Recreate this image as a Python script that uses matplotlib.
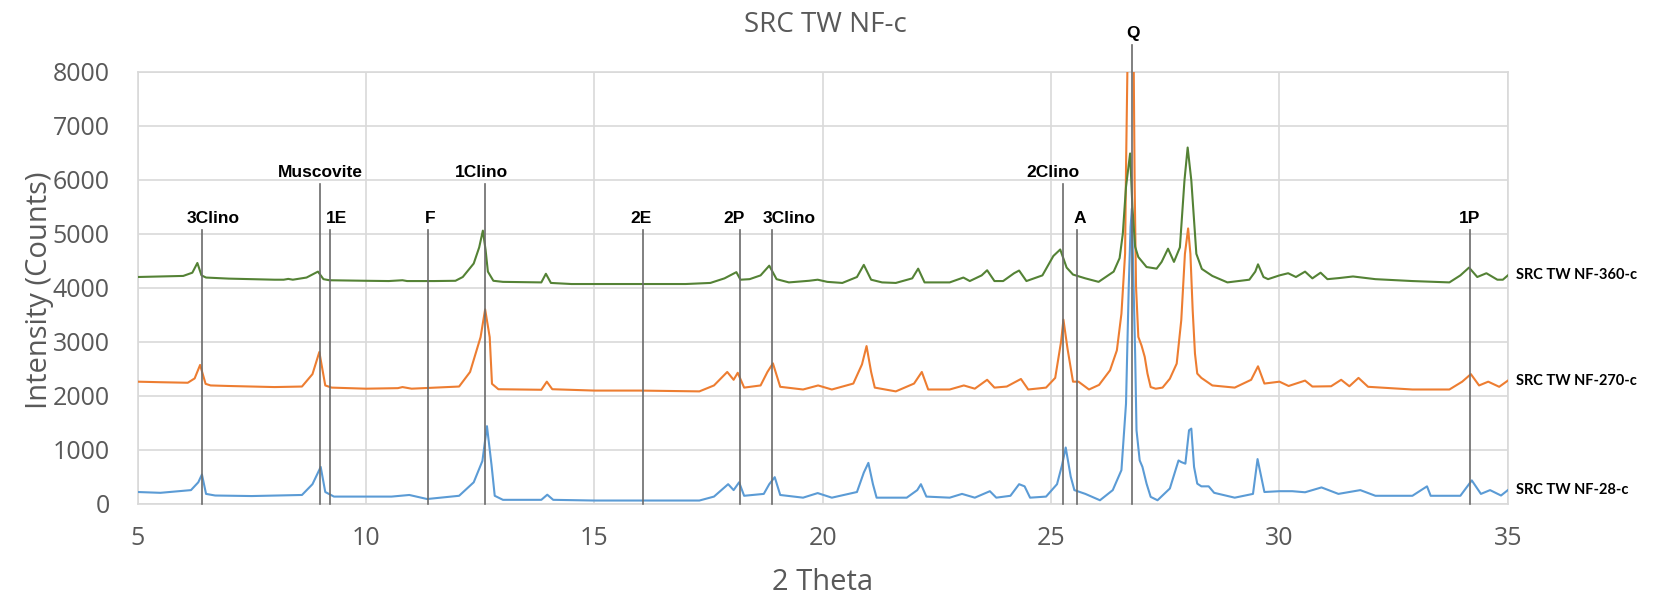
import matplotlib
matplotlib.use("Agg")
import matplotlib.pyplot as plt

# XRD traces, 2-theta vs counts (stacked samples)
theta_360 = [5.0, 5.5, 6.0, 6.2, 6.31, 6.4, 6.5, 7.0, 7.5, 8.0, 8.2, 8.3, 8.4, 8.7, 8.95, 9.07,
             9.2, 10.0, 10.5, 10.8, 10.9, 11.5, 11.96, 12.12, 12.36, 12.48, 12.56, 12.62, 12.67,
             12.79, 13.0, 13.84, 13.94, 14.05, 14.5, 15.0, 16.0, 17.0, 17.54, 17.85, 18.11, 18.2,
             18.4, 18.64, 18.83, 18.99, 19.26, 19.7, 19.89, 20.1, 20.43, 20.75, 20.9, 21.06, 21.3,
             21.6, 21.96, 22.09, 22.23, 22.78, 23.08, 23.22, 23.48, 23.6, 23.76, 23.95, 24.19, 24.3,
             24.46, 24.81, 25.05, 25.2, 25.34, 25.48, 25.75, 26.04, 26.37, 26.5, 26.57, 26.64,
             26.73, 26.78, 26.84, 26.91, 27.09, 27.31, 27.42, 27.56, 27.69, 27.82, 27.92, 27.99,
             28.07, 28.18, 28.3, 28.53, 28.86, 29.34, 29.47, 29.53, 29.65, 29.75, 30.0, 30.19,
             30.36, 30.56, 30.72, 30.9, 31.05, 31.3, 31.61, 32.1, 32.91, 33.72, 33.96, 34.15,
             34.33, 34.53, 34.77, 34.89, 35.0]
counts_360 = [4200, 4210, 4220, 4280, 4460, 4230, 4190, 4170, 4160, 4150, 4150, 4165, 4150, 4190,
              4300, 4160, 4140, 4130, 4125, 4140, 4125, 4125, 4130, 4200, 4450, 4750, 5060, 4700,
              4300, 4130, 4110, 4100, 4260, 4090, 4070, 4070, 4070, 4070, 4090, 4175, 4290, 4150,
              4160, 4230, 4410, 4160, 4100, 4130, 4150, 4110, 4090, 4200, 4425, 4150, 4100, 4090,
              4175, 4355, 4100, 4100, 4190, 4125, 4230, 4325, 4125, 4125, 4270, 4320, 4125, 4230,
              4590, 4710, 4375, 4245, 4175, 4110, 4300, 4550, 5000, 5870, 6490, 5500, 4760, 4570,
              4385, 4355, 4480, 4725, 4480, 4750, 5990, 6600, 5990, 4630, 4350, 4220, 4100, 4150,
              4300, 4435, 4200, 4160, 4230, 4270, 4200, 4300, 4175, 4280, 4160, 4180, 4210, 4160,
              4125, 4100, 4230, 4375, 4200, 4270, 4150, 4150, 4230]

theta_270 = [5.0, 5.5, 6.1, 6.25, 6.37, 6.49, 6.6, 7.0, 8.0, 8.6, 8.83, 8.98, 9.11, 9.25, 10.0,
             10.7, 10.8, 11.0, 12.04, 12.28, 12.51, 12.61, 12.71, 12.76, 12.9, 13.84, 13.96, 14.08,
             15.0, 16.0, 17.3, 17.62, 17.91, 18.05, 18.14, 18.28, 18.64, 18.79, 18.91, 19.07,
             19.57, 19.9, 20.2, 20.67, 20.86, 20.96, 21.06, 21.14, 21.6, 22.0, 22.17, 22.31, 22.78,
             23.09, 23.33, 23.6, 23.76, 24.03, 24.34, 24.5, 24.89, 25.09, 25.22, 25.27, 25.36,
             25.48, 25.6, 25.83, 26.05, 26.29, 26.44, 26.54, 26.62, 26.64, 26.67, 26.745, 26.81,
             26.83, 26.86, 26.91, 26.98, 27.05, 27.11, 27.18, 27.29, 27.44, 27.6, 27.75, 27.85,
             27.93, 28.0, 28.05, 28.1, 28.15, 28.2, 28.29, 28.53, 29.02, 29.38, 29.53, 29.67, 30.0,
             30.2, 30.56, 30.72, 31.13, 31.35, 31.53, 31.73, 31.94, 32.91, 33.72, 34.0, 34.19,
             34.37, 34.57, 34.81, 35.0]
counts_270 = [2260, 2250, 2240, 2320, 2570, 2220, 2190, 2180, 2160, 2170, 2400, 2810, 2190, 2150,
              2130, 2140, 2160, 2130, 2170, 2440, 3085, 3600, 3085, 2220, 2120, 2110, 2260, 2120,
              2095, 2095, 2080, 2190, 2440, 2295, 2425, 2150, 2190, 2440, 2600, 2165, 2115, 2190,
              2115, 2225, 2580, 2920, 2440, 2150, 2080, 2225, 2440, 2115, 2115, 2190, 2130, 2295,
              2150, 2170, 2310, 2115, 2150, 2330, 3010, 3410, 2870, 2260, 2260, 2115, 2200, 2470,
              2840, 3520, 4630, 6180, 8000, 10500, 8000, 5870, 4015, 3090, 2930, 2720, 2410, 2160,
              2130, 2150, 2315, 2595, 3400, 4630, 5100, 4630, 3580, 2780, 2410, 2330, 2190, 2150,
              2295, 2545, 2225, 2260, 2180, 2280, 2170, 2175, 2295, 2175, 2330, 2165, 2115, 2115,
              2260, 2400, 2190, 2260, 2165, 2280]

theta_28 = [5.0, 5.5, 6.17, 6.33, 6.41, 6.5, 6.7, 7.5, 8.6, 8.83, 9.01, 9.11, 9.3, 10.56, 10.95,
            11.34, 12.04, 12.36, 12.55, 12.65, 12.75, 12.82, 13.0, 13.84, 13.97, 14.1, 15.0, 16.0,
            17.3, 17.62, 17.93, 18.05, 18.17, 18.28, 18.71, 18.83, 18.95, 19.07, 19.57, 19.89,
            20.2, 20.75, 20.9, 21.0, 21.1, 21.18, 21.84, 22.07, 22.15, 22.27, 22.78, 23.05, 23.33,
            23.66, 23.8, 24.11, 24.3, 24.42, 24.54, 24.89, 25.13, 25.24, 25.32, 25.43, 25.51,
            25.75, 26.07, 26.35, 26.54, 26.64, 26.7, 26.74, 26.77, 26.79, 26.84, 26.87, 26.94,
            27.0, 27.09, 27.18, 27.33, 27.6, 27.79, 27.85, 27.94, 28.02, 28.07, 28.13, 28.2,
            28.29, 28.45, 28.57, 29.02, 29.42, 29.52, 29.59, 29.67, 30.0, 30.28, 30.56, 30.92,
            31.29, 31.77, 32.1, 32.91, 33.23, 33.31, 33.96, 34.21, 34.41, 34.61, 34.85, 35.0]
counts_28 = [215, 200, 250, 395, 540, 180, 150, 140, 160, 360, 680, 215, 130, 130, 160, 85, 145,
             395, 790, 1435, 715, 145, 70, 70, 165, 70, 57, 57, 57, 130, 360, 250, 395, 145, 180,
             360, 490, 160, 110, 195, 110, 215, 575, 755, 360, 110, 110, 250, 360, 130, 110, 180,
             110, 230, 110, 145, 360, 320, 110, 130, 360, 715, 1040, 500, 250, 180, 62, 250, 620,
             1850, 4015, 5130, 5470, 4630, 2780, 1360, 800, 680, 370, 125, 62, 280, 800, 770, 740,
             1360, 1390, 680, 370, 320, 320, 200, 110, 180, 825, 540, 215, 230, 230, 210, 300, 180,
             250, 145, 145, 320, 145, 145, 430, 180, 250, 150, 250]

series_names = ["SRC TW NF-28-c", "SRC TW NF-270-c", "SRC TW NF-360-c"]

# phase markers: 2-theta of each reference line and where its stem stops
phase_labels = ["3Clino", "Muscovite", "1E", "F", "1Clino", "2E", "2P", "3Clino",
                "2Clino", "A", "Q", "1P"]
phase_theta = [6.41, 9.0, 9.21, 11.36, 12.6, 16.07, 18.19, 18.89, 25.27, 25.56, 26.77, 34.17]
phase_top = [5080, 5930, 5080, 5080, 5930, 5080, 5080, 5080, 5930, 5080, 8500, 5080]
label_shift = [0.24, 0.0, 0.15, 0.04, -0.08, -0.05, -0.14, 0.38, -0.22, 0.06, 0.03, 0.0]

grey = "#595959"
grid_col = "#d9d9d9"

fig = plt.figure(figsize=(16.59, 6.08), dpi=100)
ax = fig.add_axes([0.0829, 0.1717, 0.826, 0.7099])

ax.plot(theta_28, counts_28, color="#5B9BD5", lw=1.5, zorder=3)
ax.plot(theta_270, counts_270, color="#ED7D31", lw=1.5, zorder=3)
ax.plot(theta_360, counts_360, color="#548235", lw=1.5, zorder=4)

ax.set_xlim(5, 35)
ax.set_ylim(0, 8000)
ax.set_xticks(range(5, 36, 5))
ax.set_yticks(range(0, 8001, 1000))
ax.grid(True, color=grid_col, lw=1.2, zorder=0)
ax.set_axisbelow(True)
for s in ax.spines.values():
    s.set_color(grid_col)
    s.set_linewidth(1.2)
ax.tick_params(length=0, labelcolor=grey, labelsize=18)
ax.tick_params(axis="y", pad=20)
ax.tick_params(axis="x", pad=16)
for lab in ax.get_xticklabels() + ax.get_yticklabels():
    lab.set_fontfamily("Open Sans")

# vertical phase lines with bold tags on top
for name, th, top, dx in zip(phase_labels, phase_theta, phase_top, label_shift):
    ax.plot([th, th], [0, top], color="#6b6b6b", lw=1.2, zorder=5, clip_on=False)
    ax.text(th + dx, top + 210, name, ha="center", va="center", fontsize=12.5,
            fontweight="bold", family="Liberation Sans", color="black", clip_on=False)

# series names next to the last point
for name, yy in zip(series_names, [counts_28[-1], counts_270[-1], counts_360[-1]]):
    ax.annotate(name, (35, yy), xytext=(6, 0), textcoords="offset points",
                ha="left", va="center", fontsize=10.5, fontweight="bold",
                family="Lato", color="black", annotation_clip=False)

fig.text(825 / 1659, 1 - 25 / 608, "SRC TW NF-c", ha="center", va="center",
         fontsize=20, color=grey, family="Open Sans")
fig.text(823 / 1659, 1 - 583 / 608, "2 Theta", ha="center", va="center",
         fontsize=21, color=grey, family="Open Sans")
fig.text(40 / 1659, 1 - 290 / 608, "Intensity (Counts)", ha="center", va="center",
         rotation=90, fontsize=21, color=grey, family="Open Sans")

fig.savefig("out.png", dpi=100)
